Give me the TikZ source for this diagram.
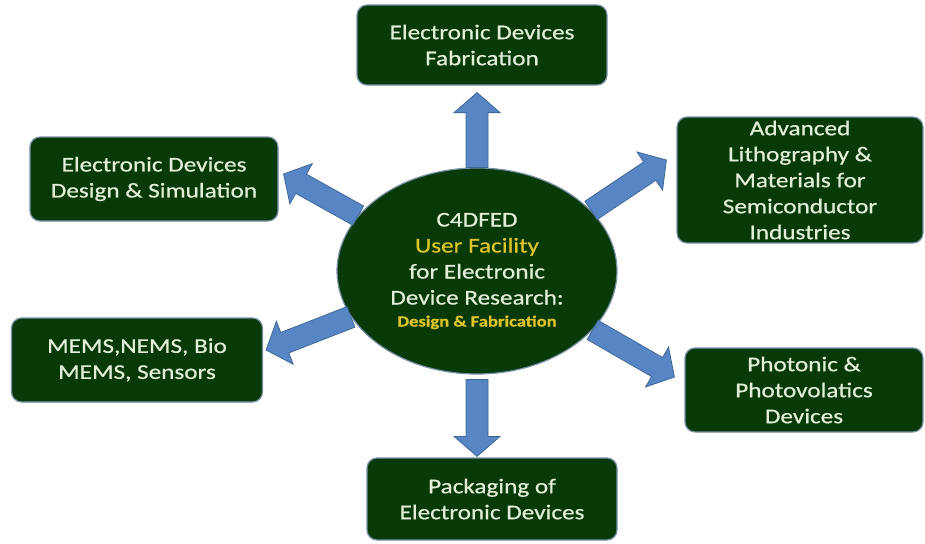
\documentclass[tikz,border=0pt]{standalone}
\usepackage{fontspec}
\setmainfont{Carlito}[FakeStretch=1.2,FakeBold=0.6]
\usetikzlibrary{calc,shapes.geometric}
\definecolor{boxgreen}{RGB}{8,58,8}
\definecolor{boxline}{RGB}{120,145,170}
\definecolor{txtlight}{RGB}{226,238,216}
\definecolor{txtgold}{RGB}{222,196,40}
\definecolor{arrowblue}{RGB}{88,134,196}
\definecolor{arrowline}{RGB}{62,104,152}
\tikzset{
  thema/.style={rectangle, rounded corners=10pt, fill=boxgreen, draw=boxline,
    line width=1.2pt, text=txtlight, align=center, inner sep=0pt,
    font=\fontsize{21}{26}\selectfont},
  kern/.style={ellipse, fill=boxgreen, draw=boxline, line width=1.2pt,
    text=txtlight, align=center, inner sep=0pt,
    minimum width=280pt, minimum height=206pt,
    font=\fontsize{21}{26}\selectfont},
  pfeil/.style={fill=arrowblue, draw=arrowline, line width=0.8pt, line join=miter}
}
% Blockpfeil von #1 nach #2
\newcommand{\blockpfeil}[2]{%
  \path (#1) coordinate (pa) (#2) coordinate (pb);
  \coordinate (ph) at ($(pb)!20pt!(pa)$);
  \filldraw[pfeil] ($(pa)!11pt!90:(pb)$) -- ($(ph)!11pt!-90:(pa)$)
    -- ($(ph)!23pt!-90:(pa)$) -- (pb) -- ($(ph)!23pt!90:(pa)$)
    -- ($(ph)!11pt!90:(pa)$) -- ($(pa)!11pt!-90:(pb)$) -- cycle;}
\begin{document}
\begin{tikzpicture}[x=1pt,y=-1pt]
	\useasboundingbox (0,0) rectangle (925,543);
	% Mitte
	\node[kern] (c) at (477,271) {C4DFED\\\textcolor{txtgold}{User Facility}\\for Electronic\\Device Research:\\[-4pt]{\fontsize{15.5}{20}\selectfont\bfseries\color{txtgold}Design \& Fabrication}};
	% Themen
	\node[thema, minimum width=250pt, minimum height=80pt] (fab) at (482,45) {Electronic Devices\\Fabrication};
	\node[thema, minimum width=248pt, minimum height=84pt] (dsn) at (154,179) {Electronic Devices\\Design \& Simulation};
	\node[thema, minimum width=251pt, minimum height=84pt] (mems) at (137,360) {MEMS,NEMS, Bio\\MEMS, Sensors};
	\node[thema, minimum width=246pt, minimum height=126pt] (lit) at (800,180) {Advanced\\Lithography \&\\Materials for\\Semiconductor\\Industries};
	\node[thema, minimum width=238pt, minimum height=84pt] (pho) at (804,390) {Photonic \&\\Photovolatics\\Devices};
	\node[thema, minimum width=250pt, minimum height=82pt] (pkg) at (492,499) {Packaging of\\Electronic Devices};
	% Pfeile
	\blockpfeil{c.north}{$(c.north |- fab.south)+(0,7)$}
	\blockpfeil{$(c.south)+(0,5)$}{$(c.south |- pkg.north)+(0,-1)$}
	\blockpfeil{c.155}{$(dsn.east)+(5,-5)$}
	\blockpfeil{c.200}{$(mems.east)+(3,-10)$}
	\blockpfeil{c.28}{$(lit.west)+(-10,-20)$}
	\blockpfeil{c.-27}{$(pho.west)+(-10,-13)$}
\end{tikzpicture}
\end{document}
